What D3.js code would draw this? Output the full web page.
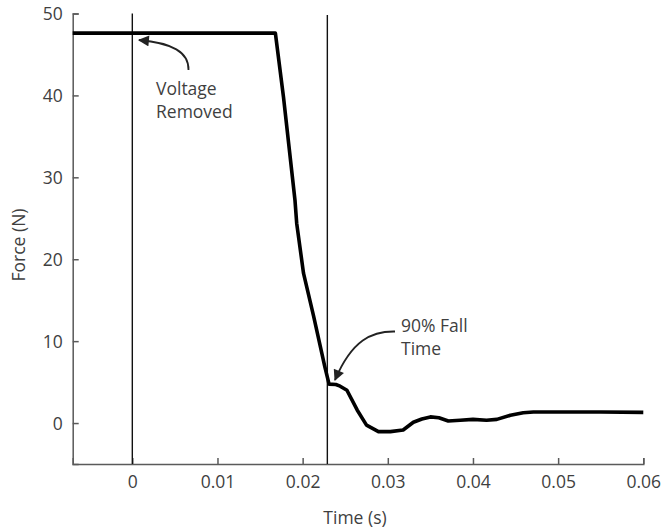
<!DOCTYPE html>
<html>
<head>
<meta charset="utf-8">
<script src="https://cdn.jsdelivr.net/npm/d3@7"></script>
<style>
  body { margin: 0; background: #fff; }
  text { font-family: "Open Sans", "Noto Sans", sans-serif; fill: #3f3f3f; }
</style>
</head>
<body>
<div id="chart"></div>
<script>
const times = [-0.007, 0.0168, 0.01775, 0.0191, 0.0193, 0.0201, 0.0213, 0.0226, 0.0231, 0.0239,
  0.0244, 0.0252, 0.0264, 0.0275, 0.0289, 0.0303, 0.0318, 0.033, 0.034, 0.035, 0.036,
  0.0371, 0.0385, 0.040, 0.0416, 0.0428, 0.0444, 0.0459, 0.0471, 0.051, 0.055, 0.06];
const force = [47.6, 47.6, 39.8, 27.2, 24.4, 18.3, 13.0, 6.9, 4.75, 4.7,
  4.5, 4.0, 1.6, -0.25, -1.05, -1.05, -0.85, 0.1, 0.5, 0.75, 0.65,
  0.25, 0.35, 0.45, 0.35, 0.45, 0.95, 1.25, 1.35, 1.35, 1.35, 1.3];
const xTicks = [0, 0.01, 0.02, 0.03, 0.04, 0.05, 0.06];
const yTicks = [0, 10, 20, 30, 40, 50];
const markerTimes = [0, 0.0229];

const width = 665, height = 531;
const axisColor = "#5a5a5a";

const x = d3.scaleLinear().domain([-0.007, 0.06]).range([72.7, 643.3]);
const y = d3.scaleLinear().domain([-5, 50]).range([464, 13.5]);

const svg = d3.select("#chart").append("svg")
    .attr("width", width)
    .attr("height", height);

svg.append("defs").append("marker")
    .attr("id", "arrow")
    .attr("viewBox", "0 0 10 10")
    .attr("refX", 9)
    .attr("refY", 5)
    .attr("markerWidth", 14)
    .attr("markerHeight", 11)
    .attr("markerUnits", "userSpaceOnUse")
    .attr("orient", "auto")
  .append("path")
    .attr("d", "M0,0 L10,5 L0,10 Z")
    .attr("fill", "#222");

// axes
const xAxis = d3.axisBottom(x).tickValues(xTicks).tickSize(-6).tickPadding(12)
    .tickFormat(d => d === 0 ? "0" : d3.format(".2f")(d));
const yAxis = d3.axisLeft(y).tickValues(yTicks).tickSize(-6).tickPadding(10)
    .tickFormat(d3.format("d"));

const gx = svg.append("g")
    .attr("transform", `translate(0,${y(-5)})`)
    .call(xAxis);
const gy = svg.append("g")
    .attr("transform", `translate(${x(-0.007)},0)`)
    .call(yAxis);

[gx, gy].forEach(g => {
  g.select(".domain").attr("stroke", axisColor).attr("stroke-width", 1.5);
  g.selectAll(".tick line").attr("stroke", axisColor).attr("stroke-width", 1.5);
  g.selectAll(".tick text").style("font-size", "17.5px").attr("fill", "#3f3f3f")
    .style("font-family", "'Open Sans', sans-serif");
});
gx.selectAll(".tick text").attr("dy", "0.71em");
gy.selectAll(".tick text").attr("dy", "0.35em");

svg.append("text")
    .attr("x", 355)
    .attr("y", 524)
    .attr("text-anchor", "middle")
    .style("font-size", "17.5px")
    .text("Time (s)");

svg.append("text")
    .attr("transform", "translate(25,245) rotate(-90)")
    .attr("text-anchor", "middle")
    .style("font-size", "17.5px")
    .text("Force (N)");

// vertical marker lines
svg.selectAll(".marker-line")
    .data(markerTimes)
    .enter().append("line")
    .attr("class", "marker-line")
    .attr("x1", d => x(d))
    .attr("x2", d => x(d))
    .attr("y1", (d, i) => i === 0 ? 13.5 : 15)
    .attr("y2", y(-5))
    .attr("stroke", "#111")
    .attr("stroke-width", 1.4);

// force curve
const line = d3.line()
    .x((d, i) => x(times[i]))
    .y(d => y(d));

svg.append("path")
    .datum(force)
    .attr("d", line)
    .attr("fill", "none")
    .attr("stroke", "#000")
    .attr("stroke-width", 3.6)
    .attr("stroke-linejoin", "round");

// annotations
svg.append("path")
    .attr("d", "M188.5,70 C189,52 172,43 139,40")
    .attr("fill", "none")
    .attr("stroke", "#222")
    .attr("stroke-width", 1.8)
    .attr("marker-end", "url(#arrow)");

svg.append("path")
    .attr("d", "M395,331.5 C372,331 352,340 335,380")
    .attr("fill", "none")
    .attr("stroke", "#222")
    .attr("stroke-width", 1.8)
    .attr("marker-end", "url(#arrow)");

const notes = [
  {x: 156, y: 94.5, lines: ["Voltage", "Removed"]},
  {x: 401, y: 332, lines: ["90% Fall", "Time"]}
];
notes.forEach(n => {
  const t = svg.append("text").attr("x", n.x).attr("y", n.y).style("font-size", "17.5px");
  n.lines.forEach((l, i) => {
    t.append("tspan").attr("x", n.x).attr("dy", i === 0 ? 0 : 23).text(l);
  });
});
</script>
</body>
</html>
